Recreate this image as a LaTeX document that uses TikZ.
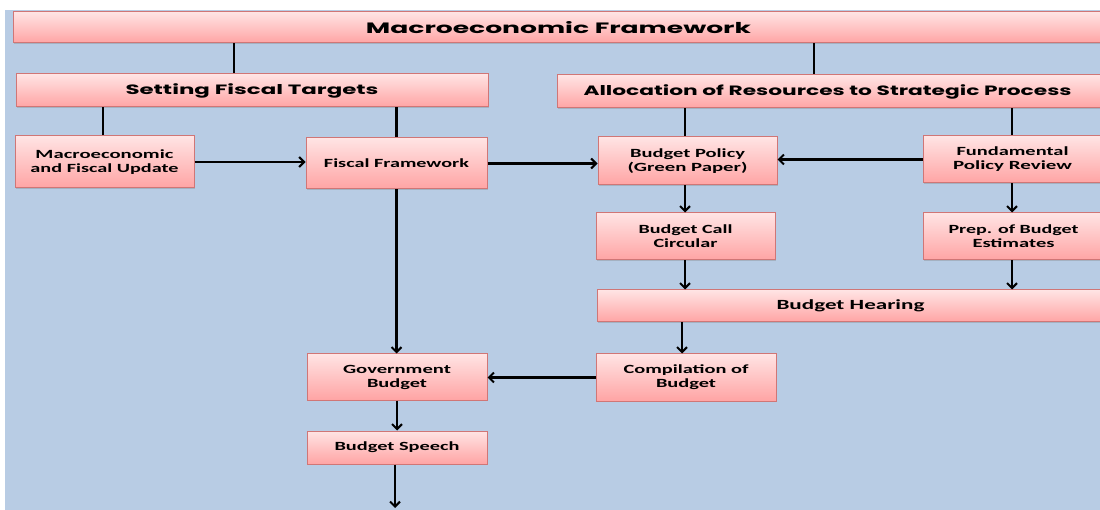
\documentclass[tikz,border=0pt]{standalone}
\usepackage{fontspec}
\usepackage{graphicx}
\usetikzlibrary{arrows.meta,shadows,calc}
\newfontfamily\headfont{Poppins}[BoldFont=* Bold]
\newfontfamily\boxfont{Carlito}
\definecolor{bgblue}{RGB}{184,204,228}
\definecolor{pinktop}{RGB}{255,228,228}
\definecolor{pinkbot}{RGB}{255,164,164}
\definecolor{pinkline}{RGB}{208,118,118}
\newcommand\fitw[2]{\resizebox{#1pt}{\height}{#2}}
\tikzset{
  pbox/.style={draw=pinkline, line width=1pt, top color=pinktop, bottom color=pinkbot,
    drop shadow={shadow xshift=1.2pt, shadow yshift=-1.2pt, opacity=0.35},
    inner sep=0pt, align=center, text=black},
  headtxt/.style={font=\headfont\bfseries\fontsize{13.5}{15}\selectfont},
  smalltxt/.style={font=\boxfont\bfseries\fontsize{12.5}{14}\selectfont},
  conn/.style={line width=2.2pt, black},
  arr/.style={conn, -{Straight Barb[length=5pt,width=10pt,line width=2pt]}},
}
% box: name, x1, y1, x2, y2, style, text
\newcommand\mybox[7]{%
  \node[pbox,#6, minimum width={(#4-#2)*1pt}, minimum height={(#5-#3)*1pt}]
    (#1) at ({(#2+#4)/2},{(#3+#5)/2}) {#7};}
\begin{document}
\begin{tikzpicture}[x=1pt,y=-1pt]
\useasboundingbox (0,0) rectangle (1100,510);
\clip (0,0) rectangle (1100,510);
\fill[white] (0,0) rectangle (1100,510);
\fill[bgblue] (5,10) rectangle (1104,514);

\mybox{top}{13}{12}{1104}{43}{headtxt,font=\headfont\bfseries\fontsize{15}{16}\selectfont}{\fitw{385}{Macroeconomic Framework}}
\mybox{sft}{16}{74}{488}{107}{headtxt}{\fitw{253}{Setting Fiscal Targets}}
\mybox{alloc}{557}{75}{1104}{108}{headtxt}{\hspace*{-6pt}\fitw{488}{Allocation of Resources to Strategic Process}}
\mybox{mfu}{15}{136}{194}{188}{smalltxt}{\fitw{138}{Macroeconomic}\\\fitw{148}{and Fiscal Update}}
\mybox{ff}{306}{138}{487}{189}{smalltxt}{\fitw{145}{Fiscal Framework}}
\mybox{bp}{598}{137}{777}{185}{smalltxt}{\fitw{115}{Budget Policy}\\\fitw{120}{(Green Paper)}}
\mybox{fpr}{923}{136}{1104}{183}{smalltxt}{\hspace*{-2pt}\fitw{112}{Fundamental}\\\hspace*{-2pt}\fitw{119}{Policy Review}}
\mybox{bcc}{596}{213}{775}{260}{smalltxt}{\fitw{94}{Budget Call}\\\fitw{64}{Circular}}
\mybox{pbe}{923}{213}{1104}{260}{smalltxt}{\fitw{130}{Prep. of Budget}\\\fitw{82}{Estimates}}
\mybox{bh}{597}{290}{1104}{322}{smalltxt,font=\boxfont\bfseries\fontsize{14}{15}\selectfont}{\fitw{148}{Budget Hearing}}
\mybox{cob}{596}{354}{776}{401}{smalltxt}{\fitw{125}{Compilation of}\\\fitw{60}{Budget}}
\mybox{gb}{307}{354}{487}{400}{smalltxt}{\fitw{108}{Government}\\\fitw{60}{Budget}}
\mybox{bs}{307}{431}{487}{464}{smalltxt}{\fitw{125}{Budget Speech}}

\coordinate (xa) at (234,0);
\coordinate (xb) at (814,0);
\coordinate (xc) at (685,0);
\coordinate (xd) at (1012,0);
\coordinate (xe) at (682,0);
\coordinate (xf) at (103,0);
\coordinate (end) at (395,508);

% plain lines
\draw[conn] (top.south -| xa) -- (sft.north -| xa);
\draw[conn] (top.south -| xb) -- (alloc.north -| xb);
\draw[conn] (sft.south -| xf) -- (mfu.north -| xf);
\draw[conn] (sft.south -| ff.north) -- (ff.north);
\draw[conn] (alloc.south -| xc) -- (bp.north -| xc);
\draw[conn] (alloc.south -| xd) -- (fpr.north -| xd);

% arrows
\draw[arr] (mfu.east) -- (mfu.east -| ff.west);
\draw[arr] (ff.east) -- (ff.east -| bp.west);
\draw[arr] (fpr.west) -- (fpr.west -| bp.east);
\draw[arr] (bp.south -| xc) -- (bcc.north -| xc);
\draw[arr] (fpr.south -| xd) -- (pbe.north -| xd);
\draw[arr] (bcc.south -| xc) -- (bh.north -| xc);
\draw[arr] (pbe.south -| xd) -- (bh.north -| xd);
\draw[arr] (ff.south) -- (ff.south |- gb.north);
\draw[arr] (bh.south -| xe) -- (cob.north -| xe);
\draw[arr] (cob.west) -- (cob.west -| gb.east);
\draw[arr] (gb.south) -- (bs.north);
\draw[arr] (bs.south -| end) -- (end);
\end{tikzpicture}
\end{document}
